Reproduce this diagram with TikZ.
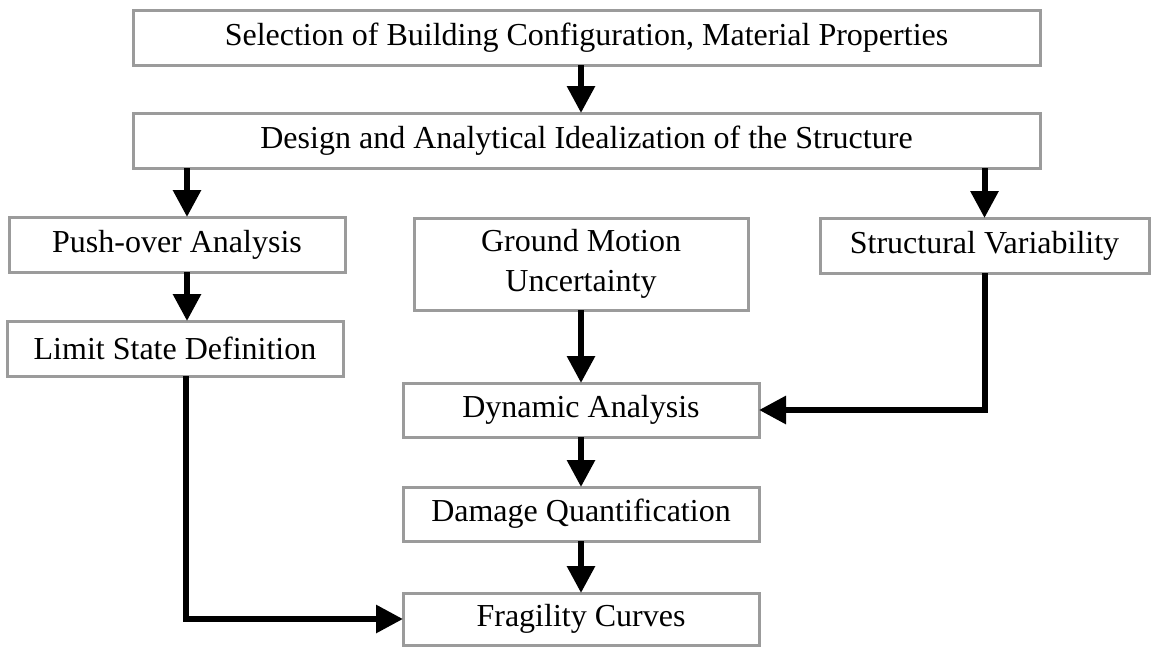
\documentclass[tikz,border=0pt]{standalone}
\usepackage{fontspec}
\setmainfont{Liberation Serif}
\usetikzlibrary{arrows.meta,positioning}
\definecolor{boxline}{RGB}{155,155,155}

\begin{document}
\begin{tikzpicture}[x=1pt,y=-1pt,
  node distance=48pt,
  stage/.style={draw=boxline,line width=3pt,fill=white,outer sep=0pt,inner sep=0pt,
    minimum height=55pt,align=center,font=\fontsize{32}{40}\selectfont},
  flow/.style={-{Triangle[length=27pt,width=27pt]},line width=6pt,black},
]
  \useasboundingbox (0,0) rectangle (1151,646);

  \node[stage,minimum width=907pt] (sel) at (586.5,37.5) {Selection of Building Configuration, Material Properties};
  \node[stage,minimum width=907pt,below=48pt of sel] (design) {Design and Analytical Idealization of the Structure};

  \node[stage,minimum width=336pt] (push) at (177,244.5) {Push-over Analysis};
  \node[stage,minimum width=336pt,below=49pt of push,xshift=-2pt] (limit) {Limit State Definition};
  \node[stage,minimum width=334pt,minimum height=92pt] (ground) at (581,264) {Ground Motion\\Uncertainty};
  \node[stage,minimum width=329pt] (struct) at (984.5,245.5) {Structural Variability};

  \node[stage,minimum width=356pt,minimum height=54pt] (dyn) at (581,410) {Dynamic Analysis};
  \node[stage,minimum width=356pt,minimum height=54pt,below=50pt of dyn] (dmg) {Damage Quantification};
  \node[stage,minimum width=356pt,minimum height=52pt,below=52pt of dmg] (frag) {Fragility Curves};

  \draw[flow] (sel.south -| dyn) -- (design.north -| dyn);
  \draw[flow] ([xshift=10pt]push.north |- design.south) -- ([xshift=10pt]push.north);
  \draw[flow] (struct.north |- design.south) -- (struct.north);
  \draw[flow] ([xshift=10pt]push.south) -- ([xshift=10pt]push.south |- limit.north);
  \draw[flow] (ground.south) -- (dyn.north);
  \draw[flow] (dyn.south) -- (dmg.north);
  \draw[flow] (dmg.south) -- (frag.north);
  \draw[flow] ([xshift=11pt]limit.south) |- (frag.west);
  \draw[flow] (struct.south) |- (dyn.east);
\end{tikzpicture}
\end{document}
